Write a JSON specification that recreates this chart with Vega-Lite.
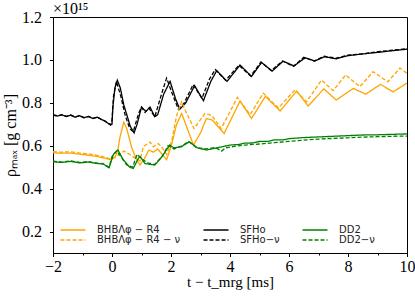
{
  "$schema": "https://vega.github.io/schema/vega-lite/v6.json",
  "width": 354,
  "height": 236,
  "autosize": {"type": "none"},
  "padding": {"left": 53, "top": 17, "right": 8, "bottom": 43},
  "title": {"text": "×10¹⁵", "anchor": "start", "frame": "group", "offset": 0, "dy": 8, "font": "Liberation Serif", "fontSize": 16, "fontWeight": "normal", "color": "black"},
  "config": {
    "view": {"stroke": "black", "strokeWidth": 1}
  },
  "data": {"values": [
    {"s":"SFHo","t":-2.0,"v":0.743},{"s":"SFHo","t":-1.85,"v":0.738},{"s":"SFHo","t":-1.7,"v":0.744},{"s":"SFHo","t":-1.55,"v":0.736},{"s":"SFHo","t":-1.4,"v":0.742},{"s":"SFHo","t":-1.25,"v":0.733},{"s":"SFHo","t":-1.1,"v":0.740},{"s":"SFHo","t":-0.95,"v":0.730},{"s":"SFHo","t":-0.8,"v":0.737},{"s":"SFHo","t":-0.65,"v":0.727},{"s":"SFHo","t":-0.5,"v":0.733},{"s":"SFHo","t":-0.35,"v":0.722},{"s":"SFHo","t":-0.25,"v":0.716},{"s":"SFHo","t":-0.15,"v":0.706},{"s":"SFHo","t":-0.05,"v":0.698},{"s":"SFHo","t":0.0,"v":0.70},{"s":"SFHo","t":0.03,"v":0.78},{"s":"SFHo","t":0.1,"v":0.87},{"s":"SFHo","t":0.18,"v":0.905},{"s":"SFHo","t":0.28,"v":0.87},{"s":"SFHo","t":0.4,"v":0.79},{"s":"SFHo","t":0.5,"v":0.745},{"s":"SFHo","t":0.62,"v":0.69},{"s":"SFHo","t":0.75,"v":0.66},{"s":"SFHo","t":0.85,"v":0.70},{"s":"SFHo","t":1.0,"v":0.78},{"s":"SFHo","t":1.15,"v":0.76},{"s":"SFHo","t":1.29,"v":0.78},{"s":"SFHo","t":1.45,"v":0.735},{"s":"SFHo","t":1.55,"v":0.745},{"s":"SFHo","t":1.75,"v":0.84},{"s":"SFHo","t":1.97,"v":0.90},{"s":"SFHo","t":2.15,"v":0.82},{"s":"SFHo","t":2.3,"v":0.77},{"s":"SFHo","t":2.5,"v":0.80},{"s":"SFHo","t":2.8,"v":0.88},{"s":"SFHo","t":3.1,"v":0.81},{"s":"SFHo","t":3.35,"v":0.90},{"s":"SFHo","t":3.55,"v":0.95},{"s":"SFHo","t":3.9,"v":0.90},{"s":"SFHo","t":4.34,"v":0.976},{"s":"SFHo","t":4.73,"v":0.923},{"s":"SFHo","t":5.07,"v":0.988},{"s":"SFHo","t":5.43,"v":0.948},{"s":"SFHo","t":5.8,"v":0.994},{"s":"SFHo","t":6.17,"v":0.972},{"s":"SFHo","t":6.55,"v":1.01},{"s":"SFHo","t":6.88,"v":0.995},{"s":"SFHo","t":7.2,"v":1.015},{"s":"SFHo","t":7.6,"v":1.005},{"s":"SFHo","t":8.0,"v":1.02},{"s":"SFHo","t":8.5,"v":1.028},{"s":"SFHo","t":9.0,"v":1.035},{"s":"SFHo","t":9.5,"v":1.043},{"s":"SFHo","t":10.0,"v":1.05},
    {"s":"SFHo−ν","t":-2.0,"v":0.745},{"s":"SFHo−ν","t":-1.85,"v":0.739},{"s":"SFHo−ν","t":-1.7,"v":0.745},{"s":"SFHo−ν","t":-1.55,"v":0.737},{"s":"SFHo−ν","t":-1.4,"v":0.743},{"s":"SFHo−ν","t":-1.25,"v":0.734},{"s":"SFHo−ν","t":-1.1,"v":0.741},{"s":"SFHo−ν","t":-0.95,"v":0.731},{"s":"SFHo−ν","t":-0.8,"v":0.737},{"s":"SFHo−ν","t":-0.65,"v":0.728},{"s":"SFHo−ν","t":-0.5,"v":0.733},{"s":"SFHo−ν","t":-0.35,"v":0.722},{"s":"SFHo−ν","t":-0.25,"v":0.716},{"s":"SFHo−ν","t":-0.15,"v":0.706},{"s":"SFHo−ν","t":-0.05,"v":0.697},{"s":"SFHo−ν","t":0.0,"v":0.72},{"s":"SFHo−ν","t":0.05,"v":0.83},{"s":"SFHo−ν","t":0.15,"v":0.90},{"s":"SFHo−ν","t":0.3,"v":0.83},{"s":"SFHo−ν","t":0.45,"v":0.74},{"s":"SFHo−ν","t":0.6,"v":0.68},{"s":"SFHo−ν","t":0.72,"v":0.665},{"s":"SFHo−ν","t":0.9,"v":0.75},{"s":"SFHo−ν","t":1.0,"v":0.78},{"s":"SFHo−ν","t":1.12,"v":0.755},{"s":"SFHo−ν","t":1.25,"v":0.775},{"s":"SFHo−ν","t":1.45,"v":0.735},{"s":"SFHo−ν","t":1.7,"v":0.85},{"s":"SFHo−ν","t":1.85,"v":0.915},{"s":"SFHo−ν","t":2.05,"v":0.84},{"s":"SFHo−ν","t":2.25,"v":0.77},{"s":"SFHo−ν","t":2.45,"v":0.80},{"s":"SFHo−ν","t":2.75,"v":0.885},{"s":"SFHo−ν","t":3.05,"v":0.82},{"s":"SFHo−ν","t":3.3,"v":0.91},{"s":"SFHo−ν","t":3.5,"v":0.955},{"s":"SFHo−ν","t":3.85,"v":0.905},{"s":"SFHo−ν","t":4.3,"v":0.975},{"s":"SFHo−ν","t":4.7,"v":0.925},{"s":"SFHo−ν","t":5.05,"v":0.99},{"s":"SFHo−ν","t":5.4,"v":0.95},{"s":"SFHo−ν","t":5.78,"v":0.995},{"s":"SFHo−ν","t":6.15,"v":0.97},{"s":"SFHo−ν","t":6.5,"v":1.012},{"s":"SFHo−ν","t":6.85,"v":0.995},{"s":"SFHo−ν","t":7.2,"v":1.017},{"s":"SFHo−ν","t":7.6,"v":1.008},{"s":"SFHo−ν","t":8.0,"v":1.022},{"s":"SFHo−ν","t":8.5,"v":1.028},{"s":"SFHo−ν","t":9.0,"v":1.038},{"s":"SFHo−ν","t":9.5,"v":1.045},{"s":"SFHo−ν","t":10.0,"v":1.052},
    {"s":"BHBΛφ − R4","t":-2.0,"v":0.567},{"s":"BHBΛφ − R4","t":-1.7,"v":0.565},{"s":"BHBΛφ − R4","t":-1.4,"v":0.566},{"s":"BHBΛφ − R4","t":-1.1,"v":0.561},{"s":"BHBΛφ − R4","t":-0.8,"v":0.556},{"s":"BHBΛφ − R4","t":-0.5,"v":0.550},{"s":"BHBΛφ − R4","t":-0.2,"v":0.540},{"s":"BHBΛφ − R4","t":-0.05,"v":0.535},{"s":"BHBΛφ − R4","t":0.1,"v":0.545},{"s":"BHBΛφ − R4","t":0.2,"v":0.58},{"s":"BHBΛφ − R4","t":0.27,"v":0.64},{"s":"BHBΛφ − R4","t":0.4,"v":0.71},{"s":"BHBΛφ − R4","t":0.5,"v":0.68},{"s":"BHBΛφ − R4","t":0.67,"v":0.59},{"s":"BHBΛφ − R4","t":0.84,"v":0.533},{"s":"BHBΛφ − R4","t":0.95,"v":0.51},{"s":"BHBΛφ − R4","t":1.1,"v":0.54},{"s":"BHBΛφ − R4","t":1.25,"v":0.58},{"s":"BHBΛφ − R4","t":1.4,"v":0.57},{"s":"BHBΛφ − R4","t":1.55,"v":0.585},{"s":"BHBΛφ − R4","t":1.7,"v":0.56},{"s":"BHBΛφ − R4","t":1.85,"v":0.535},{"s":"BHBΛφ − R4","t":2.0,"v":0.595},{"s":"BHBΛφ − R4","t":2.19,"v":0.70},{"s":"BHBΛφ − R4","t":2.36,"v":0.75},{"s":"BHBΛφ − R4","t":2.5,"v":0.70},{"s":"BHBΛφ − R4","t":2.76,"v":0.603},{"s":"BHBΛφ − R4","t":3.0,"v":0.66},{"s":"BHBΛφ − R4","t":3.2,"v":0.727},{"s":"BHBΛφ − R4","t":3.4,"v":0.72},{"s":"BHBΛφ − R4","t":3.8,"v":0.657},{"s":"BHBΛφ − R4","t":4.34,"v":0.808},{"s":"BHBΛφ − R4","t":4.73,"v":0.727},{"s":"BHBΛφ − R4","t":5.2,"v":0.83},{"s":"BHBΛφ − R4","t":5.7,"v":0.762},{"s":"BHBΛφ − R4","t":6.26,"v":0.855},{"s":"BHBΛφ − R4","t":6.65,"v":0.785},{"s":"BHBΛφ − R4","t":7.18,"v":0.865},{"s":"BHBΛφ − R4","t":7.6,"v":0.813},{"s":"BHBΛφ − R4","t":8.18,"v":0.867},{"s":"BHBΛφ − R4","t":8.6,"v":0.84},{"s":"BHBΛφ − R4","t":9.1,"v":0.886},{"s":"BHBΛφ − R4","t":9.53,"v":0.851},{"s":"BHBΛφ − R4","t":10.0,"v":0.892},
    {"s":"BHBΛφ − R4 − ν","t":-2.0,"v":0.572},{"s":"BHBΛφ − R4 − ν","t":-1.7,"v":0.570},{"s":"BHBΛφ − R4 − ν","t":-1.4,"v":0.572},{"s":"BHBΛφ − R4 − ν","t":-1.1,"v":0.566},{"s":"BHBΛφ − R4 − ν","t":-0.8,"v":0.562},{"s":"BHBΛφ − R4 − ν","t":-0.5,"v":0.555},{"s":"BHBΛφ − R4 − ν","t":-0.2,"v":0.545},{"s":"BHBΛφ − R4 − ν","t":-0.05,"v":0.538},{"s":"BHBΛφ − R4 − ν","t":0.1,"v":0.545},{"s":"BHBΛφ − R4 − ν","t":0.25,"v":0.56},{"s":"BHBΛφ − R4 − ν","t":0.4,"v":0.575},{"s":"BHBΛφ − R4 − ν","t":0.6,"v":0.56},{"s":"BHBΛφ − R4 − ν","t":0.8,"v":0.54},{"s":"BHBΛφ − R4 − ν","t":0.95,"v":0.53},{"s":"BHBΛφ − R4 − ν","t":1.06,"v":0.595},{"s":"BHBΛφ − R4 − ν","t":1.29,"v":0.617},{"s":"BHBΛφ − R4 − ν","t":1.4,"v":0.595},{"s":"BHBΛφ − R4 − ν","t":1.57,"v":0.61},{"s":"BHBΛφ − R4 − ν","t":1.68,"v":0.595},{"s":"BHBΛφ − R4 − ν","t":1.85,"v":0.56},{"s":"BHBΛφ − R4 − ν","t":2.02,"v":0.62},{"s":"BHBΛφ − R4 − ν","t":2.19,"v":0.74},{"s":"BHBΛφ − R4 − ν","t":2.36,"v":0.805},{"s":"BHBΛφ − R4 − ν","t":2.5,"v":0.76},{"s":"BHBΛφ − R4 − ν","t":2.78,"v":0.68},{"s":"BHBΛφ − R4 − ν","t":3.15,"v":0.75},{"s":"BHBΛφ − R4 − ν","t":3.38,"v":0.742},{"s":"BHBΛφ − R4 − ν","t":3.7,"v":0.68},{"s":"BHBΛφ − R4 − ν","t":4.25,"v":0.825},{"s":"BHBΛφ − R4 − ν","t":4.68,"v":0.745},{"s":"BHBΛφ − R4 − ν","t":5.13,"v":0.845},{"s":"BHBΛφ − R4 − ν","t":5.64,"v":0.776},{"s":"BHBΛφ − R4 − ν","t":6.2,"v":0.86},{"s":"BHBΛφ − R4 − ν","t":6.6,"v":0.805},{"s":"BHBΛφ − R4 − ν","t":7.1,"v":0.906},{"s":"BHBΛφ − R4 − ν","t":7.5,"v":0.857},{"s":"BHBΛφ − R4 − ν","t":7.92,"v":0.93},{"s":"BHBΛφ − R4 − ν","t":8.4,"v":0.875},{"s":"BHBΛφ − R4 − ν","t":8.85,"v":0.945},{"s":"BHBΛφ − R4 − ν","t":9.35,"v":0.898},{"s":"BHBΛφ − R4 − ν","t":9.76,"v":0.962},{"s":"BHBΛφ − R4 − ν","t":10.0,"v":0.937},
    {"s":"DD2","t":-2.0,"v":0.525},{"s":"DD2","t":-1.7,"v":0.522},{"s":"DD2","t":-1.4,"v":0.527},{"s":"DD2","t":-1.1,"v":0.520},{"s":"DD2","t":-0.8,"v":0.524},{"s":"DD2","t":-0.5,"v":0.517},{"s":"DD2","t":-0.3,"v":0.515},{"s":"DD2","t":-0.1,"v":0.497},{"s":"DD2","t":0.05,"v":0.56},{"s":"DD2","t":0.2,"v":0.58},{"s":"DD2","t":0.38,"v":0.535},{"s":"DD2","t":0.6,"v":0.50},{"s":"DD2","t":0.72,"v":0.494},{"s":"DD2","t":0.89,"v":0.54},{"s":"DD2","t":0.95,"v":0.55},{"s":"DD2","t":1.12,"v":0.517},{"s":"DD2","t":1.45,"v":0.51},{"s":"DD2","t":1.7,"v":0.55},{"s":"DD2","t":1.95,"v":0.603},{"s":"DD2","t":2.1,"v":0.59},{"s":"DD2","t":2.35,"v":0.595},{"s":"DD2","t":2.62,"v":0.618},{"s":"DD2","t":2.9,"v":0.59},{"s":"DD2","t":3.2,"v":0.58},{"s":"DD2","t":3.55,"v":0.59},{"s":"DD2","t":4.0,"v":0.603},{"s":"DD2","t":4.3,"v":0.606},{"s":"DD2","t":4.5,"v":0.612},{"s":"DD2","t":4.8,"v":0.613},{"s":"DD2","t":5.0,"v":0.62},{"s":"DD2","t":5.3,"v":0.62},{"s":"DD2","t":5.5,"v":0.627},{"s":"DD2","t":5.8,"v":0.627},{"s":"DD2","t":6.0,"v":0.633},{"s":"DD2","t":6.5,"v":0.638},{"s":"DD2","t":7.0,"v":0.641},{"s":"DD2","t":7.5,"v":0.644},{"s":"DD2","t":8.0,"v":0.647},{"s":"DD2","t":8.5,"v":0.65},{"s":"DD2","t":9.0,"v":0.651},{"s":"DD2","t":9.5,"v":0.653},{"s":"DD2","t":10.0,"v":0.655},
    {"s":"DD2−ν","t":-2.0,"v":0.528},{"s":"DD2−ν","t":-1.7,"v":0.524},{"s":"DD2−ν","t":-1.4,"v":0.529},{"s":"DD2−ν","t":-1.1,"v":0.522},{"s":"DD2−ν","t":-0.8,"v":0.526},{"s":"DD2−ν","t":-0.5,"v":0.519},{"s":"DD2−ν","t":-0.3,"v":0.516},{"s":"DD2−ν","t":-0.1,"v":0.50},{"s":"DD2−ν","t":0.0,"v":0.55},{"s":"DD2−ν","t":0.15,"v":0.575},{"s":"DD2−ν","t":0.3,"v":0.55},{"s":"DD2−ν","t":0.5,"v":0.51},{"s":"DD2−ν","t":0.7,"v":0.50},{"s":"DD2−ν","t":0.85,"v":0.56},{"s":"DD2−ν","t":1.0,"v":0.54},{"s":"DD2−ν","t":1.2,"v":0.52},{"s":"DD2−ν","t":1.45,"v":0.513},{"s":"DD2−ν","t":1.7,"v":0.55},{"s":"DD2−ν","t":1.9,"v":0.60},{"s":"DD2−ν","t":2.1,"v":0.585},{"s":"DD2−ν","t":2.35,"v":0.598},{"s":"DD2−ν","t":2.6,"v":0.62},{"s":"DD2−ν","t":2.85,"v":0.592},{"s":"DD2−ν","t":3.2,"v":0.585},{"s":"DD2−ν","t":3.5,"v":0.592},{"s":"DD2−ν","t":3.72,"v":0.575},{"s":"DD2−ν","t":3.85,"v":0.59},{"s":"DD2−ν","t":4.1,"v":0.596},{"s":"DD2−ν","t":4.5,"v":0.603},{"s":"DD2−ν","t":5.0,"v":0.608},{"s":"DD2−ν","t":5.5,"v":0.614},{"s":"DD2−ν","t":6.0,"v":0.62},{"s":"DD2−ν","t":6.5,"v":0.626},{"s":"DD2−ν","t":7.0,"v":0.631},{"s":"DD2−ν","t":7.5,"v":0.634},{"s":"DD2−ν","t":8.0,"v":0.637},{"s":"DD2−ν","t":8.5,"v":0.64},{"s":"DD2−ν","t":9.0,"v":0.642},{"s":"DD2−ν","t":9.5,"v":0.644},{"s":"DD2−ν","t":10.0,"v":0.645}
  ]},
  "mark": {"type": "line", "strokeWidth": 1.3, "clip": true},
  "encoding": {
    "x": {"field": "t", "type": "quantitative", "scale": {"domain": [-2, 10], "nice": false, "zero": false},
      "axis": {"title": "t − t_mrg [ms]", "values": [-2,-1.5,-1,-0.5,0,0.5,1,1.5,2,2.5,3,3.5,4,4.5,5,5.5,6,6.5,7,7.5,8,8.5,9,9.5,10],
        "format": "d",
        "labelExpr": "datum.value % 2 === 0 ? datum.label : ''",
        "tickSize": {"condition": {"test": "datum.value % 2 === 0", "value": 3.5}, "value": 2},
        "labelFont": "Liberation Serif", "labelFontSize": 16, "labelColor": "black",
        "titleFont": "Liberation Serif", "titleFontSize": 15, "titleFontWeight": "normal", "titleColor": "black",
        "domainColor": "black", "tickColor": "black", "grid": false,
        "labelPadding": 2, "titlePadding": 0, "labelFlush": false}},
    "y": {"field": "v", "type": "quantitative", "scale": {"domain": [0.1, 1.2], "nice": false, "zero": false},
      "axis": {"title": "ρₘₐₓ [g cm⁻³]", "values": [0.2,0.4,0.6,0.8,1.0,1.2], "format": ".1f", "tickSize": 3.5,
        "labelFont": "Liberation Serif", "labelFontSize": 16, "labelColor": "black",
        "titleFont": "Liberation Serif", "titleFontSize": 16, "titleFontWeight": "normal", "titleColor": "black",
        "domainColor": "black", "tickColor": "black", "grid": false,
        "labelPadding": 8, "titlePadding": 3, "labelFlush": false}},
    "color": {"field": "s", "type": "nominal",
      "scale": {"domain": ["BHBΛφ − R4","BHBΛφ − R4 − ν","SFHo","SFHo−ν","DD2","DD2−ν"], "range": ["#FFA500","#FFA500","#000000","#000000","#008000","#008000"]},
      "legend": {"title": null, "orient": "none", "legendX": 15, "legendY": 208, "padding": 0, "columns": 3, "symbolType": "M-4,0H4", "symbolSize": 39, "symbolStrokeWidth": 1.5, "labelFont": "DejaVu Sans", "labelFontSize": 10, "labelColor": "#222", "labelOffset": 19, "rowPadding": -1, "columnPadding": 19}},
    "strokeDash": {"field": "s", "type": "nominal",
      "scale": {"domain": ["BHBΛφ − R4","BHBΛφ − R4 − ν","SFHo","SFHo−ν","DD2","DD2−ν"], "range": [[1,0],[4,2],[1,0],[4,2],[1,0],[4,2]]},
      "legend": null}
  }
}
